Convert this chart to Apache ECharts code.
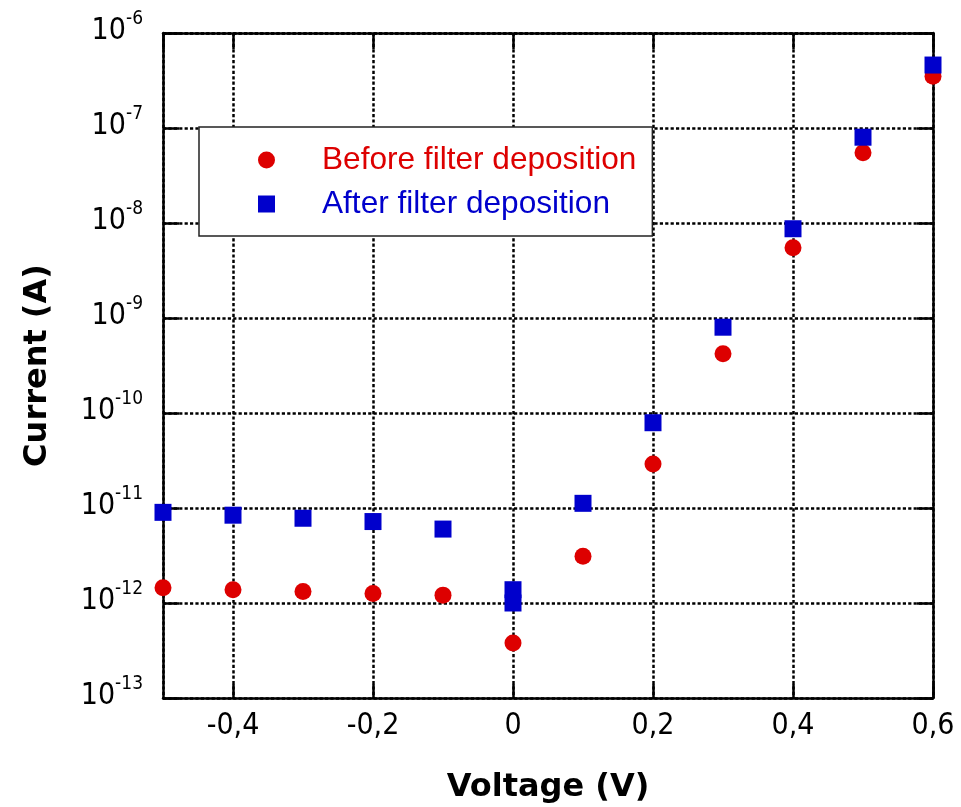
<!DOCTYPE html>
<html><head><meta charset="utf-8">
<script src="https://cdn.jsdelivr.net/npm/echarts@6/dist/echarts.min.js"></script>
<style>html,body{margin:0;padding:0;background:#fff}#c{width:961px;height:807px}</style>
</head><body><div id="c"></div>
<script>
// Data
const seriesNames = ['Before filter deposition', 'After filter deposition'];
const voltageBefore = [-0.5, -0.4, -0.3, -0.2, -0.1, 0, 0.1, 0.2, 0.3, 0.4, 0.5, 0.6];
const currentBefore = [1.45e-12, 1.38e-12, 1.32e-12, 1.26e-12, 1.21e-12, 3.8e-13, 3.1e-12, 2.9e-11, 4.2e-10, 5.5e-9, 5.5e-8, 3.5e-7];
const voltageAfter = [-0.5, -0.4, -0.3, -0.2, -0.1, 0, 0, 0.1, 0.2, 0.3, 0.4, 0.5, 0.6];
const currentAfter = [9.0e-12, 8.4e-12, 7.8e-12, 7.2e-12, 6.0e-12, 1.38e-12, 1.0e-12, 1.12e-11, 7.9e-11, 8.0e-10, 8.7e-9, 8.0e-8, 4.6e-7];
const xRange = [-0.5, 0.6];
const yRange = [1e-13, 1e-6];

const RED = '#DD0000', BLUE = '#0000CC';
const chart = echarts.init(document.getElementById('c'), null, {renderer: 'canvas'});

const dotted = {color: '#000', width: 2.5, type: [3.2, 2.2]};
const axisLine = {show: true, onZero: false, lineStyle: {color: '#000', width: 2.5}};
const tick = (len) => ({show: true, inside: true, length: len, lineStyle: {color: '#000', width: 2.5}});
const xFmt = v => Math.abs(v) < 1e-9 ? '0' : v.toFixed(1).replace('.', ',');
const yFmt = v => '{b|10}{s|' + Math.round(Math.log10(v)) + '}';

const baseX = {type: 'value', min: xRange[0], max: xRange[1], splitNumber: 5};
const baseY = {type: 'log', logBase: 10, min: yRange[0], max: yRange[1], splitNumber: 7};

chart.setOption({
  animation: false,
  backgroundColor: '#fff',
  grid: {left: 163, top: 33, width: 770, height: 665, containLabel: false, outerBoundsMode: 'none'},
  legend: {
    orient: 'vertical', left: 199, top: 127,
    data: [
      {name: seriesNames[0], icon: 'circle', textStyle: {color: RED}},
      {name: seriesNames[1], icon: 'rect', textStyle: {color: BLUE}}
    ],
    itemWidth: 17, itemHeight: 17, itemGap: 12,
    selectedMode: false,
    backgroundColor: '#fff', borderColor: '#222', borderWidth: 1.5,
    padding: [17, 16, 16, 59],
    textStyle: {fontFamily: 'Liberation Sans', fontSize: 31.6, lineHeight: 30, padding: [2, 0, 0, 42]}
  },
  xAxis: [
    Object.assign({}, baseX, {
      position: 'bottom',
      axisLine: axisLine, axisTick: tick(14),
      axisLabel: {showMinLabel: false, formatter: xFmt, fontFamily: 'DejaVu Sans Condensed', fontSize: 30, lineHeight: 30, color: '#000', margin: 13},
      splitLine: {show: true, lineStyle: dotted},
      name: 'Voltage (V)', nameLocation: 'middle', nameGap: 74,
      nameTextStyle: {fontFamily: 'DejaVu Sans', fontWeight: 'bold', fontSize: 32, color: '#000'}
    }),
    Object.assign({}, baseX, {
      position: 'top',
      axisLine: axisLine, axisTick: tick(16),
      axisLabel: {show: false}, splitLine: {show: false}
    })
  ],
  yAxis: [
    Object.assign({}, baseY, {
      position: 'left',
      axisLine: axisLine, axisTick: tick(16), minorTick: {show: false},
      axisLabel: {
        formatter: yFmt, margin: 20, color: '#000', padding: [0, 0, 4, 0],
        rich: {
          b: {fontFamily: 'DejaVu Sans Condensed', fontSize: 30, lineHeight: 43, color: '#000'},
          s: {fontFamily: 'DejaVu Sans Condensed', fontSize: 19, lineHeight: 19, verticalAlign: 'top', color: '#000'}
        }
      },
      splitLine: {show: true, lineStyle: dotted},
      name: 'Current (A)', nameLocation: 'middle', nameGap: 109,
      nameTextStyle: {fontFamily: 'DejaVu Sans', fontWeight: 'bold', fontSize: 32, color: '#000'}
    }),
    Object.assign({}, baseY, {
      position: 'right',
      axisLine: axisLine, axisTick: tick(16), minorTick: {show: false},
      axisLabel: {show: false}, splitLine: {show: false}
    })
  ],
  series: [
    {
      name: seriesNames[0], type: 'scatter', symbol: 'circle', symbolSize: 17,
      xAxisIndex: 0, yAxisIndex: 0,
      itemStyle: {color: RED, opacity: 1},
      data: voltageBefore.map((v, i) => [v, currentBefore[i]])
    },
    {
      name: seriesNames[1], type: 'scatter', symbol: 'rect', symbolSize: 17,
      xAxisIndex: 0, yAxisIndex: 0,
      itemStyle: {color: BLUE, opacity: 1},
      data: voltageAfter.map((v, i) => [v, currentAfter[i]])
    }
  ]
});
</script>
</body></html>
